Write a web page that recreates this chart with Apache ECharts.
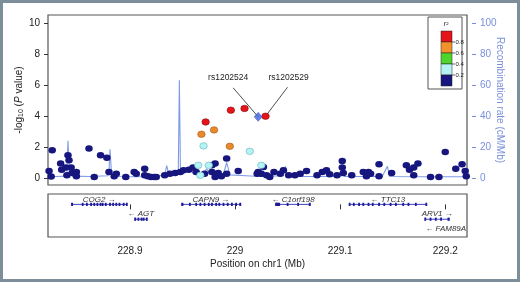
<!DOCTYPE html>
<html>
<head>
<meta charset="utf-8">
<script src="https://cdn.jsdelivr.net/npm/echarts@6/dist/echarts.min.js"></script>
<style>
  html, body { margin: 0; padding: 0; background: #fff; }
  #chart { width: 520px; height: 282px; }
</style>
</head>
<body>
<div id="chart"></div>
<script>
// ticks
const yTicks = [0, 2, 4, 6, 8, 10]
const recombTicks = [0, 20, 40, 60, 80, 100]
const xTicks = [228.9, 229, 229.1, 229.2]
const xTickLabels = ['228.9', '229', '229.1', '229.2']

// r2 legend
const r2Colors = ['#e5141a', '#f3922a', '#4fd42c', '#b5f2f3', '#16167e']
const r2Breaks = ['0.8', '0.6', '0.4', '0.2']

// SNPs [position Mb, -log10 P], grouped by r2 bin
const navyPts = [
  [228.823, 0.45], [228.825, 0.1], [228.826, 1.79], [228.834, 0.93], [228.835, 0.54],
  [228.839, 0.67], [228.840, 0.17], [228.841, 1.46], [228.842, 1.14], [228.844, 0.67],
  [228.845, 0.32], [228.849, 0.39], [228.849, 0.11], [228.861, 1.9], [228.866, 0.06],
  [228.872, 1.46], [228.878, 1.31], [228.880, 0.39], [228.885, 0.11], [228.887, 0.28],
  [228.896, 0.06], [228.904, 0.39], [228.906, 0.28], [228.914, 0.6], [228.914, 0.17],
  [228.917, 0.11], [228.920, 0.06], [228.923, 0.06], [228.925, 0.06], [228.933, 0.17],
  [228.938, 0.28], [228.943, 0.32], [228.948, 0.39], [228.951, 0.5], [228.956, 0.54],
  [228.960, 0.67], [228.963, 0.39], [228.971, 0.28], [228.978, 0.82], [228.978, 0.39],
  [228.981, 0.93], [228.981, 0.06], [228.984, 0.32], [228.987, 0.11], [228.992, 1.25],
  [228.992, 0.28], [229.003, 0.45], [229.021, 0.28], [229.022, 0.39], [229.025, 0.28],
  [229.027, 0.71], [229.030, 0.17], [229.033, 0.06], [229.037, 0.39], [229.043, 0.28],
  [229.046, 0.5], [229.051, 0.17], [229.057, 0.17], [229.062, 0.28], [229.068, 0.45],
  [229.078, 0.17], [229.083, 0.39], [229.087, 0.5], [229.090, 0.24], [229.097, 0.17],
  [229.102, 1.1], [229.102, 0.67], [229.103, 0.32], [229.111, 0.17], [229.122, 0.39],
  [229.125, 0.11], [229.127, 0.39], [229.129, 0.28], [229.137, 0.88], [229.137, 0.11],
  [229.149, 0.32], [229.163, 0.82], [229.166, 0.54], [229.170, 0.67], [229.174, 0.93],
  [229.170, 0.17], [229.186, 0.06], [229.194, 0.06], [229.200, 1.68], [229.210, 0.6],
  [229.216, 0.88], [229.219, 0.45], [229.220, 0.11],
]
const cyanPts = [[228.970, 2.07], [229.014, 1.72], [228.965, 0.82], [228.975, 0.82], [228.967, 0.17], [229.025, 0.82]]
const orangePts = [[228.968, 2.82], [228.980, 3.1], [228.995, 2.04]]
const redPts = [[228.972, 3.61], [228.996, 4.37], [229.009, 4.48], [229.029, 3.98]]
const indexSnp = [[229.022, 3.94]]

const annotNames = ['rs1202524', 'rs1202529']
const annotPts = [[229.022, 3.94], [229.029, 3.98]]

// recombination rate [position Mb, cM/Mb]
const recomb = [
  [228.822, 0.8], [228.830, 1], [228.839, 1.2], [228.840, 3], [228.841, 24], [228.8425, 2.5],
  [228.846, 1.2], [228.862, 1], [228.879, 1.5], [228.880, 3], [228.881, 18.5], [228.8825, 2],
  [228.890, 1], [228.905, 0.8], [228.925, 1], [228.933, 2], [228.935, 8], [228.937, 2],
  [228.944, 3], [228.946, 5], [228.947, 63], [228.948, 6], [228.958, 5], [228.961, 2.5],
  [228.970, 2.5], [228.973, 6], [228.976, 2.5], [228.989, 2.5], [228.992, 10], [228.995, 2],
  [229.010, 1.5], [229.025, 1], [229.046, 1.5], [229.048, 7.5], [229.050, 1], [229.090, 1],
  [229.101, 1.2], [229.1025, 4], [229.104, 1], [229.140, 1], [229.145, 7.5], [229.147, 1],
  [229.180, 0.8], [229.221, 0.8],
]

// genes
const geneNames = ['COG2', 'AGT', 'CAPN9', 'C1orf198', 'TTC13', 'ARV1', 'FAM89A']
const geneStart = [228.8445, 228.9048, 228.9492, 229.0390, 229.1089, 229.1810, 229.2005]
const geneEnd = [228.8968, 228.9159, 229.0048, 229.0714, 229.1820, 229.2038, 229.2005]
const geneRow = [0, 1, 0, 0, 0, 1, 2]
const geneStrand = ['+', '-', '+', '-', '-', '+', '-']
const geneExons = [
  [228.845, 228.855, 228.859, 228.863, 228.866, 228.869, 228.872, 228.874, 228.877, 228.881, 228.884, 228.887, 228.890, 228.894, 228.897],
  [228.905, 228.908, 228.911, 228.913, 228.916],
  [228.950, 228.957, 228.963, 228.967, 228.971, 228.975, 228.978, 228.982, 228.985, 228.989, 228.993, 228.997, 229.001, 229.005],
  [229.039, 229.040, 229.041, 229.042, 229.050, 229.060, 229.071],
  [229.109, 229.113, 229.118, 229.122, 229.127, 229.131, 229.137, 229.142, 229.148, 229.153, 229.160, 229.165, 229.172, 229.182],
  [229.181, 229.186, 229.191, 229.196, 229.203],
  [],
]

const FONT = '"Liberation Sans", Arial, sans-serif'
const X_MIN = 228.822
const X_MAX = 229.2207
const BLUE_AX = '#7a8fdb'
// pixel offsets of the annotation leader end and text centre, per label
const ANNOT_LINE = [[-25, -29], [22, -29]]
const ANNOT_TEXT = [[-30, -39], [23, -39]]

let chart = echarts.init(document.getElementById('chart'))

function dotSeries (data, color, border) {
  return {
    type: 'scatter',
    xAxisIndex: 0,
    yAxisIndex: 0,
    data: data,
    symbolSize: [7.5, 6.5],
    clip: false,
    itemStyle: {color: color, borderColor: border, borderWidth: border ? 0.6 : 0, opacity: 1},
    z: 3,
  }
}

let legendEls = [
  {type: 'rect', shape: {x: 428, y: 17, width: 34, height: 72}, style: {fill: '#fff', stroke: '#555', lineWidth: 1}},
  {type: 'text', x: 446, y: 24, style: {text: 'r²', fontSize: 7, fontStyle: 'italic', fontFamily: FONT, fill: '#222', align: 'center', verticalAlign: 'middle'}},
]
r2Colors.forEach((c, i) => {
  legendEls.push({type: 'rect', shape: {x: 441, y: 31 + i * 11, width: 11, height: 11}, style: {fill: c, stroke: '#222', lineWidth: 0.5}})
})
r2Breaks.forEach((t, i) => {
  let y = 42 + i * 11
  legendEls.push({type: 'line', shape: {x1: 452, y1: y, x2: 455, y2: y}, style: {stroke: '#222', lineWidth: 0.7}})
  legendEls.push({type: 'text', x: 455.5, y: y, style: {text: t, fontSize: 6, fontFamily: FONT, fill: '#222', verticalAlign: 'middle'}})
})

let option = {
  animation: false,
  backgroundColor: '#fff',
  textStyle: {fontFamily: FONT},
  grid: [
    {left: 48, top: 15, width: 419, height: 170, show: true, borderColor: '#555', borderWidth: 1.2, backgroundColor: '#fff'},
    {left: 48, top: 194, width: 419, height: 43, show: true, borderColor: '#555', borderWidth: 1.2, backgroundColor: '#fff'},
  ],
  xAxis: [
    {gridIndex: 0, type: 'value', min: X_MIN, max: X_MAX, show: false},
    {
      gridIndex: 1, type: 'value', min: X_MIN, max: X_MAX, position: 'bottom',
      axisLine: {show: false},
      axisTick: {show: true, length: 5, customValues: xTicks, lineStyle: {color: '#333'}},
      axisLabel: {
        show: true, customValues: xTicks, margin: 9, fontSize: 10, color: '#222',
        formatter: (v) => {
          let k = xTicks.findIndex(t => Math.abs(t - v) < 1e-6)
          return k >= 0 ? xTickLabels[k] : ''
        },
      },
      splitLine: {show: false},
      name: 'Position on chr1 (Mb)',
      nameLocation: 'middle',
      nameGap: 22,
      nameTextStyle: {fontSize: 10, color: '#222'},
    },
  ],
  yAxis: [
    {
      gridIndex: 0, type: 'value', min: -0.45, max: 10.5, position: 'left',
      axisLine: {show: false},
      axisTick: {show: true, length: 4, customValues: yTicks, lineStyle: {color: '#333'}},
      axisLabel: {show: true, customValues: yTicks, fontSize: 10, color: '#222', margin: 8},
      splitLine: {show: false},
      name: '-log{s|10} ({i|P} value)',
      nameLocation: 'middle',
      nameGap: 23,
      nameMoveOverlap: false,
      nameTextStyle: {
        fontSize: 10, color: '#222',
        rich: {
          s: {fontSize: 7, color: '#222', padding: [5, 0, 0, 0]},
          i: {fontSize: 10, color: '#222', fontStyle: 'italic'},
        },
      },
    },
    {
      gridIndex: 0, type: 'value', min: -4.5, max: 105, position: 'right', offset: 5,
      axisLine: {show: false},
      axisTick: {show: true, length: 4, customValues: recombTicks, lineStyle: {color: BLUE_AX}},
      axisLabel: {show: true, customValues: recombTicks, fontSize: 10, color: BLUE_AX, margin: 8},
      splitLine: {show: false},
      name: 'Recombination rate (cM/Mb)',
      nameLocation: 'middle',
      nameRotate: -90,
      nameGap: 23,
      nameMoveOverlap: false,
      nameTextStyle: {fontSize: 10, color: BLUE_AX},
    },
    {gridIndex: 1, type: 'value', min: -0.7, max: 2.2, inverse: true, show: false},
  ],
  series: [
    {
      type: 'line',
      xAxisIndex: 0,
      yAxisIndex: 1,
      data: recomb,
      showSymbol: false,
      lineStyle: {color: '#7f9be6', width: 1.1},
      z: 1,
    },
    {
      type: 'custom',
      xAxisIndex: 0,
      yAxisIndex: 0,
      data: annotPts.map((p, i) => [p[0], p[1], i]),
      clip: false,
      silent: true,
      renderItem: (params, api) => {
        let i = api.value(2)
        let c = api.coord([api.value(0), api.value(1)])
        let l = ANNOT_LINE[i]
        let t = ANNOT_TEXT[i]
        return {
          type: 'group',
          children: [
            {type: 'line', shape: {x1: c[0], y1: c[1], x2: c[0] + l[0], y2: c[1] + l[1]}, style: {stroke: '#222', lineWidth: 0.8}},
            {type: 'text', x: c[0] + t[0], y: c[1] + t[1], style: {text: annotNames[i], fontSize: 8.5, fontFamily: FONT, fill: '#222', align: 'center', verticalAlign: 'middle'}},
          ],
        }
      },
      z: 2,
    },
    dotSeries(navyPts, '#16167e', null),
    dotSeries(cyanPts, '#b5f2f3', '#5fb3bd'),
    dotSeries(orangePts, '#e8892c', '#a65a1c'),
    dotSeries(redPts, '#e5141a', '#8f0d10'),
    {
      type: 'scatter',
      xAxisIndex: 0,
      yAxisIndex: 0,
      data: indexSnp,
      symbol: 'diamond',
      symbolSize: [8, 9],
      itemStyle: {color: '#3c63e0', borderColor: '#23389a', borderWidth: 0.5},
      z: 4,
    },
    {
      type: 'custom',
      xAxisIndex: 1,
      yAxisIndex: 2,
      data: geneNames.map((n, i) => [geneStart[i], geneEnd[i], geneRow[i], i]),
      encode: {x: [0, 1], y: 2},
      clip: false,
      renderItem: (params, api) => {
        let i = api.value(3)
        let s = api.coord([api.value(0), api.value(2)])
        let e = api.coord([api.value(1), api.value(2)])
        let kids = []
        if (e[0] - s[0] > 0.5) {
          kids.push({type: 'line', shape: {x1: s[0], y1: s[1], x2: e[0], y2: e[1]}, style: {stroke: '#2a2ab5', lineWidth: 0.9}})
          kids.push({type: 'line', shape: {x1: s[0], y1: s[1] - 1.5, x2: s[0], y2: s[1] + 1.5}, style: {stroke: '#2a2ab5', lineWidth: 0.9}})
          kids.push({type: 'line', shape: {x1: e[0], y1: e[1] - 1.5, x2: e[0], y2: e[1] + 1.5}, style: {stroke: '#2a2ab5', lineWidth: 0.9}})
        }
        geneExons[i].forEach(x => {
          let c = api.coord([x, api.value(2)])
          kids.push({type: 'rect', shape: {x: c[0] - 0.9, y: c[1] - 1.6, width: 1.8, height: 3.2}, style: {fill: '#1c1c9a'}})
        })
        let txt = geneStrand[i] === '+' ? geneNames[i] + ' \u2192' : '\u2190 ' + geneNames[i]
        kids.push({
          type: 'text',
          x: (s[0] + e[0]) / 2,
          y: s[1] - 5,
          style: {text: txt, fontSize: 8, fontStyle: 'italic', fontFamily: FONT, fill: '#333', align: 'center', verticalAlign: 'middle'},
        })
        return {type: 'group', children: kids}
      },
      z: 3,
    },
  ],
  graphic: [
    {type: 'group', children: legendEls, z: 10},
    {type: 'rect', shape: {x: 1.5, y: 1.5, width: 517, height: 279}, style: {fill: 'none', stroke: '#7c8e99', lineWidth: 3}, z: 20},
  ],
}

chart.setOption(option)
</script>
</body>
</html>
